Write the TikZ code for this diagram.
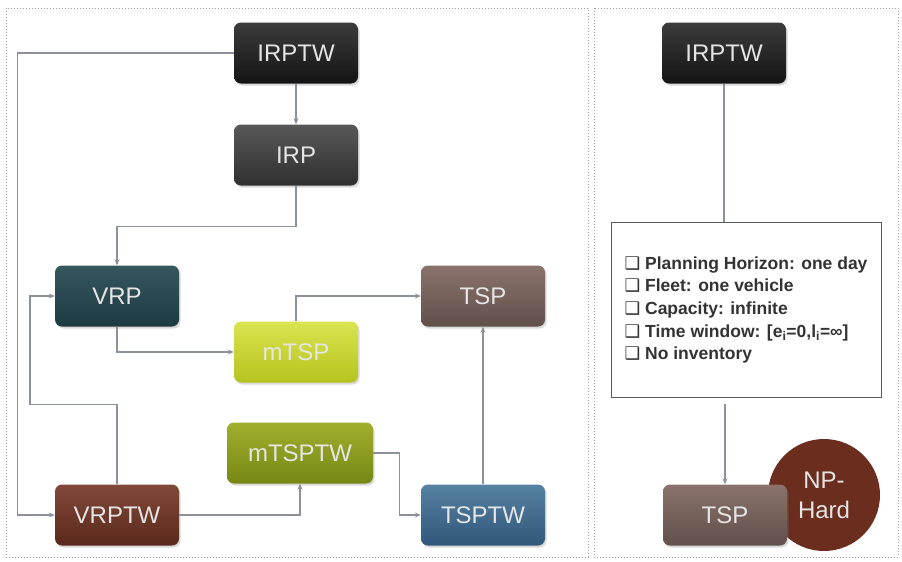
\documentclass[tikz,border=0pt]{standalone}
\usepackage{fontspec}
\setmainfont{Liberation Sans}
\newfontfamily\symfont{DejaVu Sans}
\usetikzlibrary{arrows.meta,shadows}

\definecolor{linegray}{HTML}{8C929C}
\definecolor{framegray}{HTML}{A0A0A0}
\definecolor{irptwtop}{HTML}{3C3C3C}\definecolor{irptwbot}{HTML}{141414}
\definecolor{irptop}{HTML}{585858}\definecolor{irpbot}{HTML}{303030}
\definecolor{vrptop}{HTML}{36575F}\definecolor{vrpbot}{HTML}{1D3A41}
\definecolor{tsptop}{HTML}{8A736C}\definecolor{tspbot}{HTML}{62504A}
\definecolor{mtsptop}{HTML}{DAE450}\definecolor{mtspbot}{HTML}{B6C31E}
\definecolor{mtsptwtop}{HTML}{A0AF2C}\definecolor{mtsptwbot}{HTML}{788714}
\definecolor{vrptwtop}{HTML}{82493A}\definecolor{vrptwbot}{HTML}{5A291B}
\definecolor{tsptwtop}{HTML}{5682A4}\definecolor{tsptwbot}{HTML}{31577A}
\definecolor{nphard}{HTML}{6A2D1E}

\begin{document}
\begin{tikzpicture}[x = 1pt, y = -1pt,
    prob/.style = {rounded corners=7pt, minimum width=124pt, minimum height=61pt,
        text=white!90!black, font=\fontsize{24}{28}\selectfont,
        drop shadow={opacity=0.3, shadow xshift=1.5pt, shadow yshift=-2pt}},
    link/.style = {draw=linegray, line width=1.1pt, -{Stealth[length=6pt, width=5pt]}},
    plain/.style = {draw=linegray, line width=1.1pt},
    panel/.style = {draw=framegray, dotted, line width=1pt}]
    \useasboundingbox (0,0) rectangle (902,562);
    \draw[panel] (6,8) rectangle (588,557);
    \draw[panel] (594,8) rectangle (898,557);

    % left panel
    \node[prob, top color=irptwtop, bottom color=irptwbot] (IRPTW) at (296,53) {IRPTW};
    \node[prob, top color=irptop, bottom color=irpbot] (IRP) at (296,155) {IRP};
    \node[prob, top color=vrptop, bottom color=vrpbot] (VRP) at (117,296) {VRP};
    \node[prob, top color=tsptop, bottom color=tspbot] (TSP) at (483,296) {TSP};
    \node[prob, top color=mtsptop, bottom color=mtspbot] (MTSP) at (296,352) {mTSP};
    \node[prob, minimum width=146pt, top color=mtsptwtop, bottom color=mtsptwbot] (MTSPTW) at (300,453) {mTSPTW};
    \node[prob, top color=vrptwtop, bottom color=vrptwbot] (VRPTW) at (117,515) {VRPTW};
    \node[prob, top color=tsptwtop, bottom color=tsptwbot] (TSPTW) at (483,515) {TSPTW};

    \draw[link] (IRPTW) -- (IRP);
    \draw[link] (IRP.south) -- ++(0,41) -| (VRP.north);
    \draw[link] (IRPTW.west) -- ++(-216,0) |- (VRPTW.west);
    \draw[link] (VRPTW.north) -- ++(0,-80) -- ++(-87,0) |- (VRP.west);
    \draw[link] (VRP.south) |- (MTSP.west);
    \draw[link] (MTSP.north) |- (TSP.west);
    \draw[link] (VRPTW.east) -| (MTSPTW.south);
    \draw[link] (MTSPTW.east) -- ++(26,0) |- (TSPTW.west);
    \draw[link] (TSPTW) -- (TSP);

    % right panel
    \node[prob, top color=irptwtop, bottom color=irptwbot] (IRPTW2) at (724,53) {IRPTW};
    \node[draw=black!65, line width=1pt, fill=white, minimum width=270pt, minimum height=175pt,
        align=left, text=black!80, font=\bfseries\fontsize{17.5}{22.7}\selectfont] (COND) at (746,310)
        {{\symfont ❑} Planning Horizon: one day\\
         {\symfont ❑} Fleet: one vehicle\\
         {\symfont ❑} Capacity: infinite\\
         {\symfont ❑} Time window: [e\textsubscript{i}=0,l\textsubscript{i}=∞]\\
         {\symfont ❑} No inventory};
    \node[circle, fill=nphard, minimum size=112pt, align=center, text=white!90!black,
        font=\fontsize{24}{30}\selectfont] (NP) at (824,495) {NP-\\Hard};
    \node[prob, top color=tsptop, bottom color=tspbot] (TSP2) at (725,515) {TSP};

    \draw[plain] (IRPTW2.south) -- (IRPTW2.south |- COND.north);
    \draw[link] ([yshift=-6pt]TSP2.north |- COND.south) -- (TSP2.north);
\end{tikzpicture}
\end{document}
